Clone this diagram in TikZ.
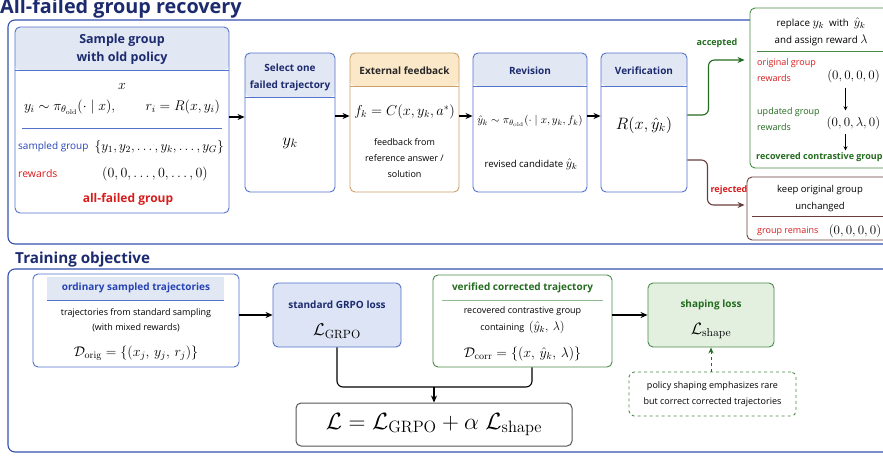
\RequirePackage{fix-cm}
\documentclass[tikz,border=0pt]{standalone}
\usepackage[no-math]{fontspec}
\setmainfont{Open Sans}
\usepackage{amsmath}
\usetikzlibrary{arrows.meta,positioning}

\definecolor{navy}{HTML}{1C2A6E}
\definecolor{frameblue}{HTML}{3550B0}
\definecolor{boxblue}{HTML}{5272CC}
\definecolor{hdrblue}{HTML}{E2E7F4}
\definecolor{lblblue}{HTML}{2643B5}
\definecolor{lossblue}{HTML}{DCE4F5}
\definecolor{redc}{HTML}{D81B1B}
\definecolor{grnline}{HTML}{4A8A48}
\definecolor{dgreen}{HTML}{236B1E}
\definecolor{shapegreen}{HTML}{E3F0E0}
\definecolor{maroon}{HTML}{6A3D3D}
\definecolor{hdrorange}{HTML}{FBE8C8}
\definecolor{orangeline}{HTML}{C9A068}
\definecolor{lossgray}{HTML}{555555}

\newcommand{\inmath}[1]{{\fontsize{12.5}{14}\selectfont$#1$}}
\newcommand{\fs}[1]{\fontsize{#1}{1.2\dimexpr#1pt\relax}\selectfont}

\begin{document}
\begin{tikzpicture}[x=1pt,y=-1pt]
  \tikzstyle{every node}=[inner sep=0pt, font=\fontsize{9}{16}\selectfont]
  \tikzstyle{outline}=[draw=frameblue, line width=1.1pt, rounded corners=7pt]
  \tikzstyle{stage}=[draw=boxblue, line width=0.9pt, rounded corners=5pt]
  \tikzstyle{bluehead}=[path picture={\fill[hdrblue] (path picture bounding box.north west) rectangle ([yshift=-#1]path picture bounding box.north east);
      \draw[boxblue, line width=0.8pt] ([yshift=-#1]path picture bounding box.north west) -- ([yshift=-#1]path picture bounding box.north east);}]
  \tikzstyle{orangehead}=[path picture={\fill[hdrorange] (path picture bounding box.north west) rectangle ([yshift=-#1]path picture bounding box.north east);
      \draw[orangeline, line width=0.8pt] ([yshift=-#1]path picture bounding box.north west) -- ([yshift=-#1]path picture bounding box.north east);}]
  \tikzstyle{headtext}=[font=\bfseries\fontsize{10}{17}\selectfont, text=navy, align=center]
  \tikzstyle{boldlbl}=[font=\bfseries\fontsize{10}{12}\selectfont]
  \tikzstyle{formula}=[font=\fs{14}]
  \tikzstyle{parttitle}=[anchor=base west, text=navy]
  \tikzstyle{flow}=[-{Stealth[length=7pt,width=6pt]}, line width=1.1pt]
  \tikzstyle{tick}=[-{Stealth[length=4pt,width=4pt]}, line width=0.8pt]

\clip (0,0) rectangle (883,456);

\node[parttitle, font=\bfseries\fontsize{19.8}{22}\selectfont] (title1) at (0,13) {All-failed group recovery};
\draw[outline] (8,20) rectangle (900,244);

\node[stage, bluehead=43pt, minimum width=214pt, minimum height=186pt] (sample) at (122,120) {};
\node[headtext, font=\bfseries\fontsize{12.5}{18}\selectfont] (sampleh) at (122,49) {Sample group\\with old policy};
\node[formula] (xin) at (122,86) {$x$};
\node[formula] (samplef) at (122,107) {$y_i \sim \pi_{\theta_{\mathrm{old}}}(\cdot \mid x), \qquad r_i = R(x, y_i)$};
\draw[boxblue, line width=0.8pt] (22,128) -- (222,128);
\node[anchor=west, text=lblblue, font=\fs{10}] (grplbl) at (18,147) {sampled group};
\node[formula, anchor=east, font=\fs{13.5}] (grpset) at (224,147) {$\{y_1, y_2, \ldots, y_k, \ldots, y_G\}$};
\node[anchor=west, text=redc, font=\fs{10.5}] (rwdlbl) at (18,174) {rewards};
\node[formula] (rwdval) at (155,174) {$(0, 0, \ldots, 0, \ldots, 0)$};
\node[font=\bfseries\fontsize{12}{14}\selectfont, text=redc] (failed) at (128,199) {all-failed group};

\node[stage, bluehead=44pt, minimum width=90pt, minimum height=139pt] (select) at (290,122.5) {};
\node[headtext] (selecth) at (290,77) {Select one\\failed trajectory};
\node[formula, font=\fs{17}] (yk) at (290,143) {$y_k$};

\node[stage, draw=orangeline, orangehead=33pt, minimum width=109pt, minimum height=139pt] (feedback) at (404.5,122.5) {};
\node[headtext, text=black!85] (feedbackh) at (404.5,71) {External feedback};
\node[formula, font=\fs{14.4}] (fk) at (404.5,112) {$f_k = C(x, y_k, a^*)$};
\node[align=center] (fktext) at (404.5,158) {feedback from\\reference answer /\\solution};

\node[stage, bluehead=33pt, minimum width=114pt, minimum height=139pt] (revise) at (530,122.5) {};
\node[headtext] (reviseh) at (530,71) {Revision};
\node[formula, font=\fs{11}] (revf) at (530,121) {$\hat{y}_k \sim \pi_{\theta_{\mathrm{old}}}(\cdot \mid x, y_k, f_k)$};
\node[font=\fs{9.6}] (revtext) at (531,164) {revised candidate \inmath{\hat{y}_k}};

\node[stage, bluehead=33pt, minimum width=86pt, minimum height=139pt] (verify) at (644,122.5) {};
\node[headtext] (verifyh) at (644,71) {Verification};
\node[formula, font=\fs{16.5}] (verf) at (644,125) {$R(x, \hat{y}_k)$};

\draw[flow] ([yshift=3pt]sample.east) -- ([yshift=3pt]sample.east -| select.west);
\draw[flow] ([yshift=6.5pt]select.east) -- ([yshift=6.5pt]feedback.west);
\draw[flow] ([yshift=6.5pt]feedback.east) -- ([yshift=6.5pt]revise.west);
\draw[flow] ([yshift=6.5pt]revise.east) -- ([yshift=6.5pt]verify.west);

\node[draw=grnline, fill=white, line width=0.9pt, rounded corners=5pt, minimum width=145pt, minimum height=160pt] (accept) at (822.5,88) {};
\node[align=center, font=\fontsize{9.8}{17}\selectfont] (acctext) at (821,32) {replace \inmath{y_k} \ with \ \inmath{\hat{y}_k}\\and assign reward \inmath{\lambda}};
\draw[grnline, line width=0.7pt] (757,51) -- (890,51);
\node[anchor=west, align=left, text=redc] (origlbl) at (757,70) {original group\\rewards};
\node[formula, font=\fs{13}] (origval) at (853.5,76) {$(0, 0, 0, 0)$};
\node[anchor=west, align=left, text=dgreen] (updlbl) at (757,119) {updated group\\rewards};
\node[formula, font=\fs{13}] (updval) at (853.5,123) {$(0, 0, \lambda, 0)$};
\node[anchor=west, font=\bfseries\fontsize{9}{11}\selectfont, text=dgreen] (recov) at (756,157) {recovered contrastive group};
\draw[tick, shorten <=5pt, shorten >=6pt] ([xshift=-8pt]origval.south) -- ([xshift=-8pt]updval.north);
\draw[tick, shorten <=4pt, shorten >=2pt] ([xshift=-8pt]updval.south) -- ([xshift=-8pt]updval.south |- recov.north);

\node[draw=maroon, fill=white, line width=0.9pt, rounded corners=5pt, minimum width=148pt, minimum height=63pt] (reject) at (821,208.5) {};
\node[align=center, font=\fontsize{9.5}{17}\selectfont] (rejtext) at (820,198.5) {keep original group\\unchanged};
\draw[maroon, line width=0.7pt] (752,216) -- (890,216);
\node[anchor=west, text=redc] (remlbl) at (757,231) {group remains};
\node[formula, font=\fs{13}] (remval) at (855,231) {$(0, 0, 0, 0)$};

\draw[flow, dgreen, rounded corners=6pt] ([yshift=7.5pt]verify.east) -- ++(21,0) |- ([xshift=-5pt, yshift=28pt]accept.west);
\draw[flow, maroon, rounded corners=6pt] ([yshift=-37.5pt]verify.east) -- ++(20,0) |- ([xshift=-2pt, yshift=3.5pt]reject.west);
\node[boldlbl, font=\bfseries\fontsize{9}{11}\selectfont, text=dgreen] (acclbl) at (717,43) {accepted};
\node[boldlbl, font=\bfseries\fontsize{9}{11}\selectfont, text=redc] (rejlbl) at (729,190) {rejected};

\node[parttitle, font=\bfseries\fontsize{15.2}{17}\selectfont] (title2) at (15,263) {Training objective};
\draw[outline] (8,269) rectangle (900,452);

\node[stage, minimum width=206pt, minimum height=93pt] (ordinary) at (136,320.5) {};
\fill[hdrblue] (47,277) rectangle (224,300);
\draw[boxblue, line width=0.8pt] (47,300) -- (224,300);
\node[boldlbl, text=lblblue] (ordh) at (136,288) {ordinary sampled trajectories};
\node[align=center, font=\fontsize{9}{15}\selectfont] (ordtext) at (136,320.5) {trajectories from standard sampling\\(with mixed rewards)};
\node[formula] (dorig) at (136,353) {$\mathcal{D}_{\mathrm{orig}} = \{(x_j,\, y_j,\, r_j)\}$};

\node[stage, fill=lossblue, minimum width=128pt, minimum height=64pt] (grpo) at (337,315) {};
\node[boldlbl, text=navy] (grpoh) at (337,305) {standard GRPO loss};
\node[formula, font=\fs{17}] (lgrpo) at (337,331) {$\mathcal{L}_{\mathrm{GRPO}}$};

\node[stage, draw=grnline, minimum width=179pt, minimum height=92pt] (corrected) at (522.5,321) {};
\draw[grnline!60, line width=0.8pt] (442,300) -- (603,300);
\node[boldlbl, text=dgreen] (corrh) at (522.5,288) {verified corrected trajectory};
\node[align=center, font=\fontsize{9}{17}\selectfont] (corrtext) at (522.5,320) {recovered contrastive group\\containing \ \inmath{(\hat{y}_k,\, \lambda)}};
\node[formula] (dcorr) at (522.5,354) {$\mathcal{D}_{\mathrm{corr}} = \{(x,\, \hat{y}_k,\, \lambda)\}$};

\node[stage, draw=grnline, fill=shapegreen, minimum width=126pt, minimum height=64pt] (shaping) at (711,315) {};
\node[boldlbl, text=dgreen] (shapeh) at (711,305) {shaping loss};
\node[formula, font=\fs{16.5}] (lshape) at (711,331) {$\mathcal{L}_{\mathrm{shape}}$};

\node[draw=grnline, dashed, line width=0.9pt, rounded corners=5pt, minimum width=167pt, minimum height=44pt, align=center] (note) at (712.5,394) {policy shaping emphasizes rare\\but correct corrected trajectories};
\draw[-{Stealth[length=6pt,width=5pt]}, dashed, dgreen, line width=1pt] (shaping.south |- note.north) -- (shaping.south);

\node[draw=lossgray, line width=1pt, rounded corners=5pt, minimum width=276pt, minimum height=43pt, font=\fs{23.5}] (total) at (434,424.5) {$\mathcal{L} = \mathcal{L}_{\mathrm{GRPO}} + \alpha\;\mathcal{L}_{\mathrm{shape}}$};
\coordinate (join) at (434,387);
\draw[line width=1.1pt, rounded corners=6pt] (grpo.south) |- (join);
\draw[line width=1.1pt, rounded corners=6pt] ([xshift=9.5pt]corrected.south) |- (join);
\draw[flow] (join) -- (total.north);
\draw[flow] (ordinary.east |- grpo.west) -- (grpo.west);
\draw[flow] (corrected.east |- shaping.west) -- (shaping.west);
\end{tikzpicture}
\end{document}
